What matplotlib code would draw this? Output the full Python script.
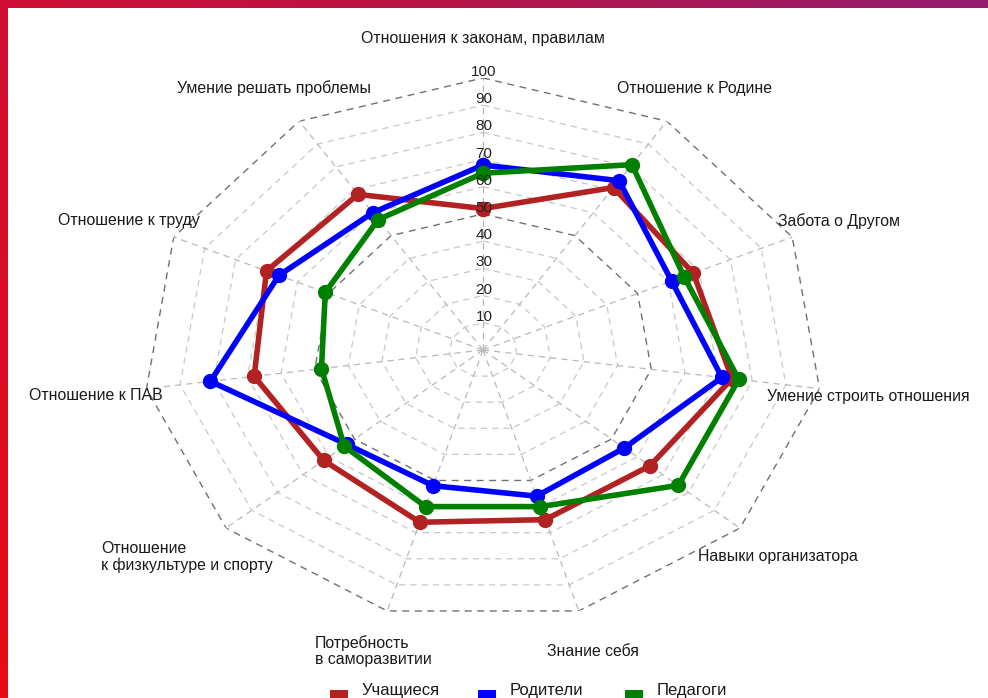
import numpy as np
import matplotlib
matplotlib.use("Agg")
import matplotlib.pyplot as plt
from matplotlib.patches import Rectangle
from matplotlib.colors import LinearSegmentedColormap

plt.rcParams['font.family'] = ['Liberation Sans', 'DejaVu Sans']

categories = [
    "Отношения к законам, правилам",
    "Отношение к Родине",
    "Забота о Другом",
    "Умение строить отношения",
    "Навыки организатора",
    "Знание себя",
    "Потребность\nв саморазвитии",
    "Отношение\nк физкультуре и спорту",
    "Отношение к ПАВ",
    "Отношение к труду",
    "Умение решать проблемы",
]
students = [52, 71, 68, 74, 65, 65, 66, 62, 68, 70, 68]
parents = [68, 74, 61, 71, 55, 56, 52, 53, 81, 66, 60]
teachers = [65, 81, 65, 76, 76, 60, 60, 54, 48, 51, 57]
series_names = ["Учащиеся", "Родители", "Педагоги"]
tick_values = [10, 20, 30, 40, 50, 60, 70, 80, 90, 100]

colors = ["#b22222", "#0000ff", "#008000"]

W, H = 988, 698
fig = plt.figure(figsize=(W / 100, H / 100), dpi=100)
fig.patch.set_facecolor("white")


def px(x, y):
    return x / W, 1 - y / H


# decorative frame: gradient top bar and left bar
top_ax = fig.add_axes([0, 1 - 8 / H, 1, 8 / H])
grad = np.linspace(0, 1, 256)[None, :]
cm_top = LinearSegmentedColormap.from_list("top", ["#cf0e33", "#b3154a", "#931d6e"])
top_ax.imshow(grad, aspect="auto", cmap=cm_top, extent=[0, 1, 0, 1])
top_ax.set_axis_off()
left_ax = fig.add_axes([0, 0, 7 / W, 1 - 8 / H])
cm_left = LinearSegmentedColormap.from_list("left", ["#e80c14", "#cf0e33"])
left_ax.imshow(np.linspace(0, 1, 256)[:, None], aspect="auto", cmap=cm_left,
               origin="lower", extent=[0, 1, 0, 1])
left_ax.set_axis_off()

# polar axes stretched into an ellipse
cx, cy = 483, 350
Rx, Ry = 340, 272
ax = fig.add_axes([(cx - Rx) / W, (H - cy - Ry) / H, 2 * Rx / W, 2 * Ry / H],
                  projection="polar")
ax.set_aspect("auto")
ax.set_theta_zero_location("N")
ax.set_theta_direction(-1)
ax.set_ylim(0, 100)
ax.grid(False)
ax.spines["polar"].set_visible(False)
ax.set_xticks([])
ax.set_yticks([])
ax.patch.set_alpha(0)

n = len(categories)
theta = np.arange(n) * 2 * np.pi / n
theta_c = np.append(theta, theta[0])

# polygon grid
for v in tick_values:
    dark = v in (50, 100)
    ax.plot(theta_c, [v] * (n + 1), ls=(0, (5, 4)), lw=1.0 if dark else 0.9,
            color="#707070" if dark else "#c8c8c8", zorder=1)
for t in theta:
    ax.plot([t, t], [0, 100], ls=(0, (5, 4)), lw=0.9, color="#b8b8b8", zorder=1)

# tick labels on the top axis
for v in tick_values:
    ax.annotate(str(v), xy=(0, v), xytext=(1, 6), textcoords="offset pixels",
                ha="center", va="center", fontsize=11, color="#222222", zorder=5)

# series
for vals, col in zip([students, parents, teachers], colors):
    vc = list(vals) + [vals[0]]
    ax.plot(theta_c, vc, color=col, lw=4.0, marker="o", markersize=10,
            solid_joinstyle="round", zorder=3)

# category labels
label_pos = [
    (483, 38, "center"),
    (694, 88, "center"),
    (839, 221, "center"),
    (767, 396, "left"),
    (698, 556, "left"),
    (547, 652, "left"),
    (315, 651, "left"),
    (101, 557, "left"),
    (163, 396, "right"),
    (200, 221, "right"),
    (371, 88, "right"),
]
for lab, (x, y, ha) in zip(categories, label_pos):
    fx, fy = px(x, y)
    fig.text(fx, fy, lab, ha=ha, va="center", fontsize=11.4, color="#1a1a1a",
             linespacing=1.05)

# legend (at the bottom edge as in the reference)
legend_x = [330, 478, 625]
for name, col, x in zip(series_names, colors, legend_x):
    x0, y0 = px(x, 698)
    fig.patches.append(Rectangle((x0, y0), 18 / W, 8 / H, transform=fig.transFigure,
                                 facecolor=col, edgecolor="none"))
    tx, ty = px(x + 32, 690)
    fig.text(tx, ty, name, ha="left", va="center", fontsize=12, color="#1a1a1a")

fig.savefig("out.png", dpi=100, facecolor="white")
